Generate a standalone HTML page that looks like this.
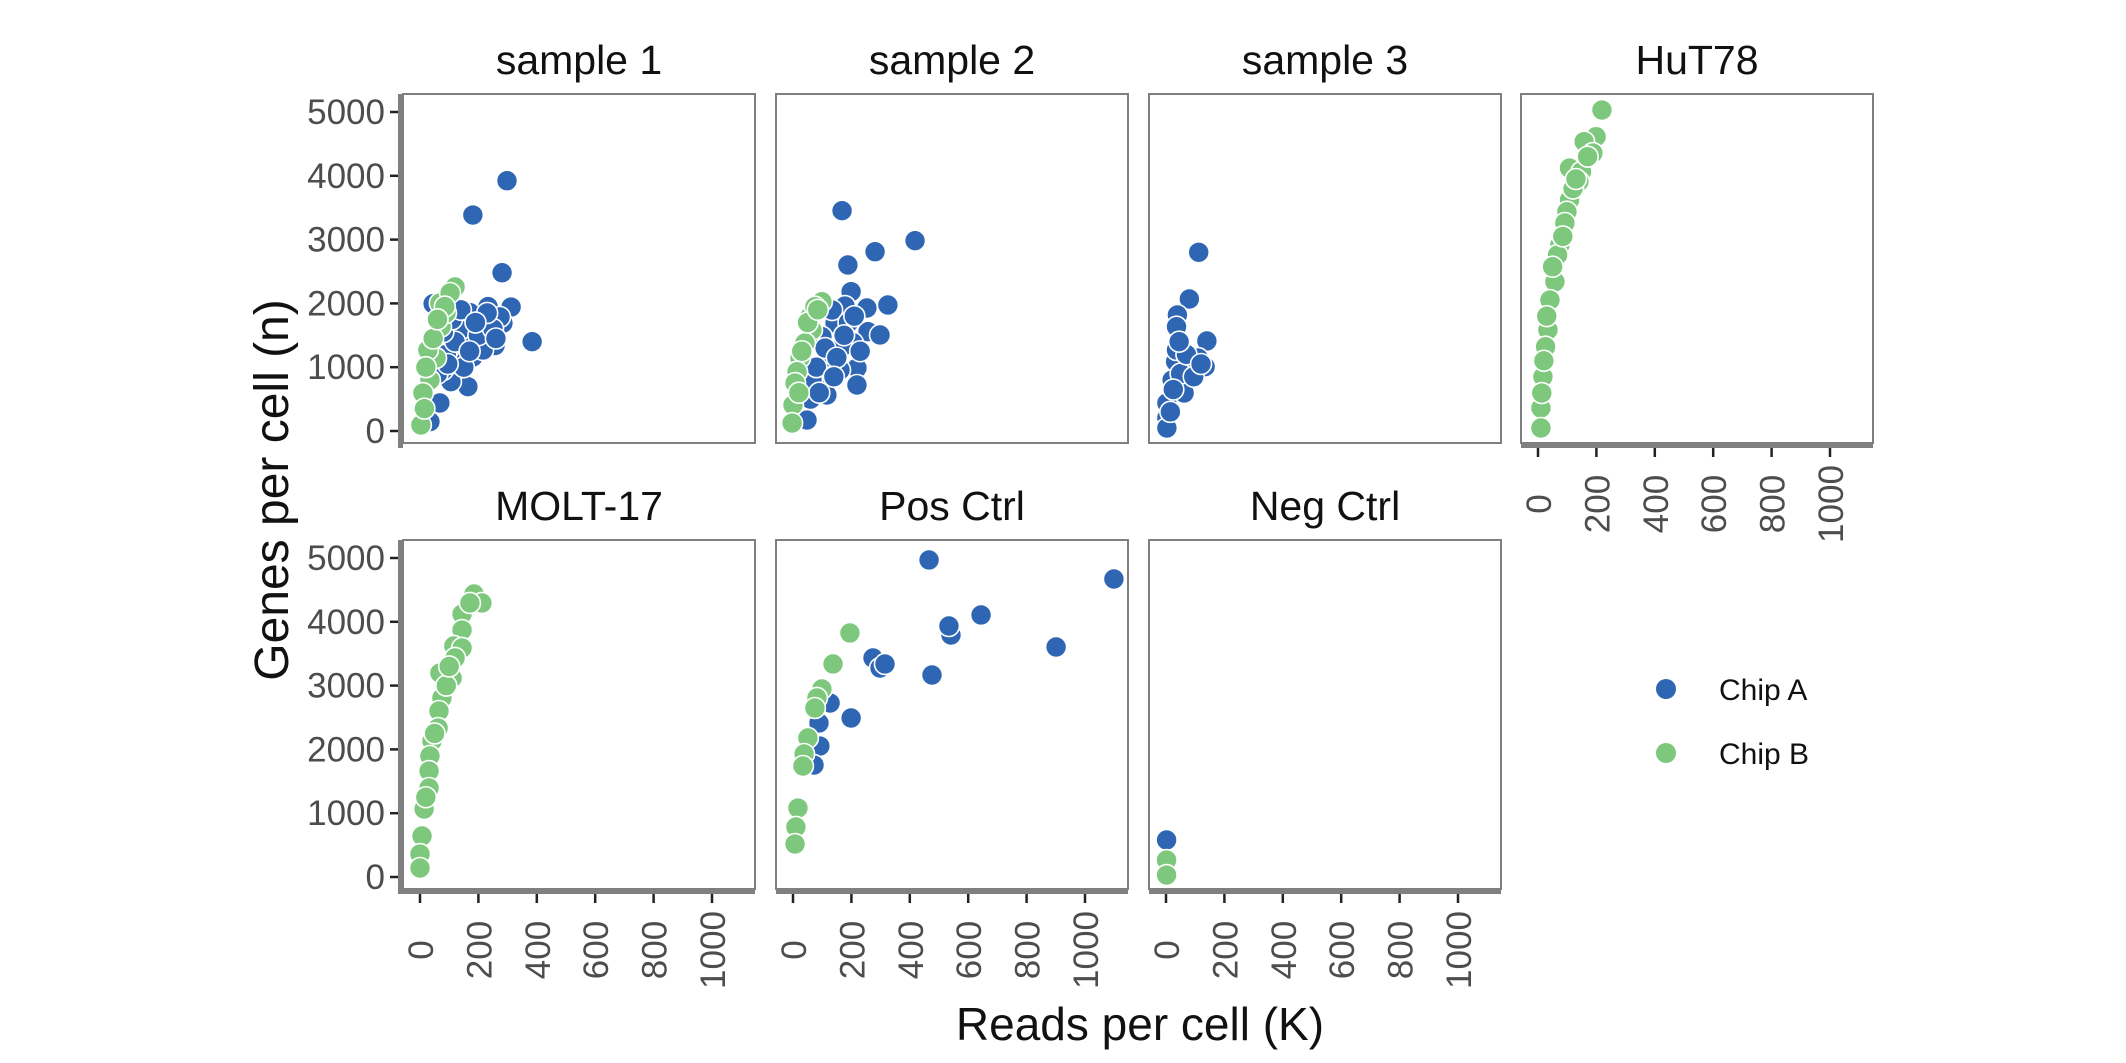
<!DOCTYPE html>
<html><head><meta charset="utf-8"><style>
html,body{margin:0;padding:0;background:#fff;}
svg{display:block;font-family:"Liberation Sans",Arial,sans-serif;}
</style></head><body>
<svg id="chart" width="2126" height="1063" viewBox="0 0 2126 1063"></svg>
<script>
// ---- data (x = reads per cell K, y = genes per cell) ----
const panelNames = ["sample 1","sample 2","sample 3","HuT78","MOLT-17","Pos Ctrl","Neg Ctrl"];
const xTicks = [0,200,400,600,800,1000];
const yTicks = [0,1000,2000,3000,4000,5000];
const s1A_x = [298,181,281,384,312,233,171,45,199,257,164,106,68,34,226,147,284,123,181,216,103,79,137,274,90,120,150,200,250,60,80,170,230,110,140,190,260,95];
const s1A_y = [3923,3385,2481,1400,1943,1950,1855,1995,1363,1340,695,773,439,146,1690,1473,1690,1066,1160,1270,1316,956,1583,1787,1200,1400,1000,1500,1600,900,1550,1250,1850,1750,1900,1700,1450,1050];
const s1B_x = [120,72,89,55,34,10,3,27,68,103,45,20,85,60,15];
const s1B_y = [2257,1635,1849,1144,799,595,94,1270,2006,2163,1450,1000,1950,1750,350];
const s2A_x = [168,281,418,188,325,199,178,253,257,298,205,219,219,120,161,99,116,65,48,144,99,168,134,80,110,150,190,230,140,175,60,90,210];
const s2A_y = [3453,2810,2983,2602,1975,2184,1959,1928,1557,1505,1384,987,721,1165,956,752,564,799,172,1693,1478,1321,1896,1000,1300,1150,1700,1250,850,1500,500,600,1800];
const s2B_x = [99,65,58,24,14,7,0,-3,41,75,30,50,85,20];
const s2B_y = [2027,1583,1792,1144,929,752,407,125,1379,1948,1250,1700,1900,600];
const s3A_x = [112,80,39,140,33,86,110,134,36,36,3,3,3,62,21,50,70,95,15,45,25,120];
const s3A_y = [2801,2069,1818,1411,1087,987,1144,1008,1635,1270,439,204,47,595,799,900,1200,850,300,1400,650,1050];
const hutB_x = [219,199,158,188,108,149,140,108,99,92,75,67,58,41,34,26,17,10,10,13,50,120,30,20,85,130,170];
const hutB_y = [5031,4613,4535,4357,4122,4065,3908,3621,3437,3260,2915,2759,2340,2053,1583,1321,851,360,47,595,2575,3800,1800,1100,3050,3950,4300];
const moltB_x = [185,212,144,171,144,116,144,120,110,68,75,65,62,41,34,31,31,14,7,0,0,90,50,20,100];
const moltB_y = [4436,4295,4122,4295,3871,3621,3590,3433,3119,3197,2806,2602,2335,2132,1897,1661,1395,1066,643,360,141,3000,2250,1250,3300];
const posA_x = [466,1099,644,541,534,901,476,274,298,315,199,127,89,92,72];
const posA_y = [4969,4671,4107,3793,3934,3605,3166,3433,3276,3339,2492,2727,2414,2053,1755];
const posB_x = [195,137,99,82,75,51,38,34,17,10,7];
const posB_y = [3825,3339,2947,2806,2649,2179,1928,1740,1081,784,517];
const negA_x = [2];
const negA_y = [580];
const negB_x = [2,2];
const negB_y = [266,31];

const seriesA = [[s1A_x,s1A_y],[s2A_x,s2A_y],[s3A_x,s3A_y],[[],[]],[[],[]],[posA_x,posA_y],[negA_x,negA_y]];
const seriesB = [[s1B_x,s1B_y],[s2B_x,s2B_y],[[],[]],[hutB_x,hutB_y],[moltB_x,moltB_y],[posB_x,posB_y],[negB_x,negB_y]];

// ---- layout ----
const NS="http://www.w3.org/2000/svg";
const svg=document.getElementById('chart');
const colLeft=[403,776,1149,1521], pw=352;
const rowTop=[94,540], ph=349;
const BLUE="#2f66b3", GREEN="#7dc87d";
function mk(tag,attrs,parent){const e=document.createElementNS(NS,tag);for(const k in attrs)e.setAttribute(k,attrs[k]);(parent||svg).appendChild(e);return e;}
function xs(c){const x0=colLeft[c]+17;return v=>x0+v*0.292;}
function ys(r){const y0=rowTop[r]+337;return v=>y0-v*0.0638;}

panelNames.forEach((name,i)=>{
  const r=Math.floor(i/4), c=i%4;
  const L=colLeft[c], T=rowTop[r], X=xs(c), Y=ys(r);
  const g=mk('g',{});
  
  
  const t=mk('text',{x:L+pw/2,y:T-20,'text-anchor':'middle','font-size':41,fill:'#111'},g);
  t.textContent=name;
  
  
  const rect=mk('rect',{x:L,y:T,width:pw,height:ph,fill:'#fff',stroke:'#7f7f7f','stroke-width':2},g);
  
  
  const cid='clip'+i;
  const cp=mk('clipPath',{id:cid},g); mk('rect',{x:L,y:T,width:pw,height:ph},cp);
  const pts=mk('g',{'clip-path':'url(#'+cid+')'},g);
  [[seriesA[i],BLUE,'chip-a'],[seriesB[i],GREEN,'chip-b']].forEach(([s,col,nm])=>{
    s[0].forEach((xv,j)=>{
      const p=mk('circle',{cx:X(xv),cy:Y(s[1][j]),r:10.5,fill:col,stroke:'#fff','stroke-width':1.6},pts);
      
      
    });
  });
  if(c===0){
    const bar=mk('rect',{x:L-5,y:T,width:5,height:ph+5,fill:'#808080'},g);
    
    
    yTicks.forEach(v=>{
      mk('line',{x1:L-13,x2:L-5,y1:Y(v),y2:Y(v),stroke:'#222','stroke-width':2.5},g);
      const tl=mk('text',{x:L-18,y:Y(v)+12,'text-anchor':'end','font-size':35,fill:'#4d4d4d'},g);
      tl.textContent=v;
      
      
    });
  }
  if(r===1||i===3){
    const bar=mk('rect',{x:L-(c===0?5:0),y:T+ph,width:pw+(c===0?5:0),height:5,fill:'#808080'},g);
    
    
    xTicks.forEach(v=>{
      mk('line',{x1:X(v),x2:X(v),y1:T+ph+5,y2:T+ph+14,stroke:'#222','stroke-width':2.5},g);
      const cy=T+ph+61, cx=X(v)+13;
      const tl=mk('text',{x:cx,y:cy,'text-anchor':'middle','font-size':35,fill:'#4d4d4d',transform:'rotate(-90 '+cx+' '+cy+')'},g);
      tl.textContent=v;
      
      
    });
  }
});

const yt=mk('text',{x:288,y:490,'text-anchor':'middle','font-size':48,fill:'#111',transform:'rotate(-90 288 490)'});
yt.textContent='Genes per cell (n)';


const xt=mk('text',{x:1140,y:1040,'text-anchor':'middle','font-size':46,fill:'#111'});
xt.textContent='Reads per cell (K)';



const legendLabels=['Chip A','Chip B'], legendColors=[BLUE,GREEN];
legendLabels.forEach((lab,k)=>{
  const g=mk('g',{});
  
  
  const cy=689+k*64;
  mk('circle',{cx:1666,cy:cy,r:10,fill:legendColors[k]},g);
  const t=mk('text',{x:1719,y:cy+11,'font-size':30,fill:'#111'},g);
  t.textContent=lab;
});
</script>
</body></html>
